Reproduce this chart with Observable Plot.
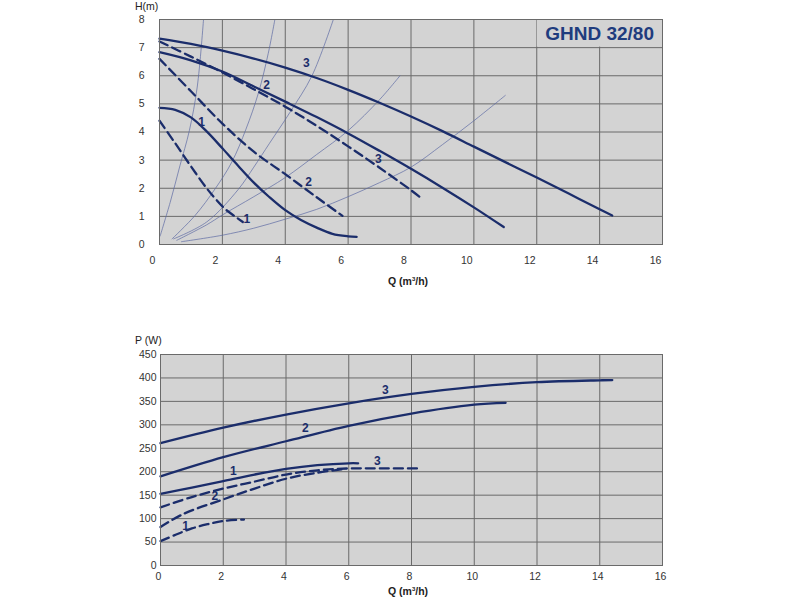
<!DOCTYPE html>
<html><head><meta charset="utf-8">
<script src="https://cdn.jsdelivr.net/npm/d3@7"></script>
<script src="https://cdn.jsdelivr.net/npm/@observablehq/plot@0.6"></script>
<style>
body{margin:0;background:#fff;font-family:"Liberation Sans",Arial,sans-serif;}
#wrap{position:relative;width:800px;height:600px;overflow:hidden;}
#wrap svg{position:absolute;left:0;}
.t{position:absolute;font-size:10.5px;line-height:11px;color:#222;white-space:nowrap;}
.b{font-weight:bold;}
</style></head><body><div id="wrap"></div>
<script>
// ---------- tick labels ----------
const qTicks = [0, 2, 4, 6, 8, 10, 12, 14, 16];
const hTicks = [0, 1, 2, 3, 4, 5, 6, 7, 8];
const pTicks = [0, 50, 100, 150, 200, 250, 300, 350, 400, 450];
const chartTitle = "GHND 32/80";

// ---------- H(Q) curves (top chart) ----------
const h1Q = [0, 0.5, 1.0, 1.5, 2.0, 2.5, 3.0, 3.5, 4.0, 4.5, 5.0, 5.5, 6.0, 6.27];
const h1H = [4.86, 4.79, 4.52, 4.02, 3.42, 2.80, 2.20, 1.68, 1.22, 0.87, 0.60, 0.38, 0.29, 0.27];
const h2Q = [0, 1, 2, 3, 4, 5, 6, 7, 8, 9, 10, 10.95];
const h2H = [6.84, 6.55, 6.15, 5.62, 5.08, 4.53, 3.95, 3.33, 2.69, 2.02, 1.32, 0.62];
const h3Q = [0, 1, 2, 3, 4, 5, 6, 7, 8, 9, 10, 11, 12, 13, 14, 14.4];
const h3H = [7.32, 7.13, 6.89, 6.61, 6.29, 5.92, 5.50, 5.04, 4.55, 4.03, 3.48, 2.93, 2.38, 1.82, 1.25, 1.03];
const h1dQ = [0, 0.5, 1.0, 1.5, 1.8, 2.1, 2.4, 2.65];
const h1dH = [4.40, 3.60, 2.78, 2.00, 1.60, 1.25, 1.00, 0.80];
const h2dQ = [0, 1, 2, 3, 4, 5, 5.82];
const h2dH = [6.60, 5.45, 4.30, 3.30, 2.50, 1.68, 1.02];
const h3dQ = [0, 1, 2, 3, 4, 5, 6, 7, 8, 8.28];
const h3dH = [7.22, 6.68, 6.12, 5.52, 4.90, 4.22, 3.49, 2.73, 1.93, 1.69];

// thin system curves
const sAQ = [0.02, 0.34, 0.65, 0.95, 1.2, 1.4];
const sAH = [0.30, 1.50, 2.80, 4.05, 5.60, 8.00];
const sBQ = [0.4, 1.13, 1.77, 2.3, 2.75, 3.15, 3.46, 3.67];
const sBH = [0.20, 1.03, 1.98, 2.93, 4.10, 5.40, 6.80, 8.00];
const sCQ = [0.45, 1.5, 2.5, 3.0, 3.5, 4.15, 4.85, 5.53];
const sCH = [0.20, 0.80, 1.95, 2.75, 3.60, 4.70, 6.00, 8.00];
const sDQ = [0.55, 1.5, 2, 3, 4, 5, 6, 7, 7.65];
const sDH = [0.15, 0.70, 1.05, 1.70, 2.38, 3.20, 4.05, 5.15, 6.00];
const sEQ = [0.7, 2, 3, 4, 5, 6, 7, 8, 9, 10, 11];
const sEH = [0.10, 0.33, 0.58, 0.90, 1.25, 1.70, 2.20, 2.75, 3.55, 4.40, 5.30];

// curve labels (top)
const hLabText = ["3", "2", "1", "3", "2", "1"];
const hLabQ = [4.67, 3.41, 1.34, 6.96, 4.74, 2.78];
const hLabH = [6.44, 5.66, 4.35, 3.05, 2.22, 0.91];

// ---------- P(Q) curves (bottom chart) ----------
const p1Q = [0, 1, 2, 3, 4, 5, 6, 6.3];
const p1P = [153, 166, 180, 194, 206, 214, 218, 218];
const p2Q = [0, 2, 4, 6, 8, 10, 11];
const p2P = [190, 231, 265, 298, 324, 343, 347];
const p3Q = [0, 2, 4, 6, 8, 10, 12, 14, 14.4];
const p3P = [261, 294, 322, 346, 366, 381, 391, 395, 395.5];
const p1dQ = [0, 0.5, 1, 1.5, 2, 2.66];
const p1dP = [52, 66, 79, 88, 95, 98];
const p2dQ = [0, 0.7, 2, 3, 4, 5, 5.9];
const p2dP = [82, 109, 141, 164, 185, 198, 206];
const p3dQ = [0, 1, 2, 3, 4, 5, 6, 7, 8.3];
const p3dP = [124, 146, 164, 179, 194, 203, 207, 207, 207];

const pLabText = ["3", "2", "1", "3", "2", "1"];
const pLabQ = [7.17, 4.62, 2.32, 6.91, 1.73, 0.80];
const pLabP = [374, 292, 202, 222, 148, 84];

// ---------- helpers ----------
const navy = "#1b2d6b";
const bg = "#d3d3d3";
const grid = "#6a6a6a";
const font = "'Liberation Sans', Arial, sans-serif";
function rows(id, qs, vs) { return qs.map((q, i) => ({id, q, v: vs[i]})); }
function labels(ts, qs, vs) { return ts.map((t, i) => ({t, q: qs[i], v: vs[i]})); }

const hSolid = [...rows("1", h1Q, h1H), ...rows("2", h2Q, h2H), ...rows("3", h3Q, h3H)];
const hDash = [...rows("1", h1dQ, h1dH), ...rows("2", h2dQ, h2dH), ...rows("3", h3dQ, h3dH)];
const hSys = [...rows("A", sAQ, sAH), ...rows("B", sBQ, sBH), ...rows("C", sCQ, sCH), ...rows("D", sDQ, sDH), ...rows("E", sEQ, sEH)];
const pSolid = [...rows("1", p1Q, p1P), ...rows("2", p2Q, p2P), ...rows("3", p3Q, p3P)];
const pDash = [...rows("1", p1dQ, p1dP), ...rows("2", p2dQ, p2dP), ...rows("3", p3dQ, p3dP)];

const titleBox = [{x1: qTicks[qTicks.length - 3], x2: qTicks[qTicks.length - 1], y1: hTicks[hTicks.length - 2], y2: hTicks[hTicks.length - 1]}];

const topChart = Plot.plot({
  width: 800, height: 300,
  marginLeft: 159, marginRight: 138, marginTop: 19, marginBottom: 56,
  x: {domain: [qTicks[0], qTicks[qTicks.length - 1]]},
  y: {domain: [hTicks[0], hTicks[hTicks.length - 1]]},
  style: {fontFamily: font, fontSize: "10.5px", color: "#333", background: "transparent", overflow: "visible"},
  marks: [
    Plot.frame({fill: bg}),
    Plot.gridX(qTicks, {stroke: grid, strokeOpacity: 1}),
    Plot.gridY(hTicks, {stroke: grid, strokeOpacity: 1}),
    Plot.rect(titleBox, {x1: "x1", x2: "x2", y1: "y1", y2: "y2", fill: bg, inset: 0.5}),
    Plot.text(titleBox, {x: d => (d.x1 + d.x2) / 2, y: d => (d.y1 + d.y2) / 2, text: () => chartTitle, fill: "#1f3c7e", fontWeight: "bold", fontSize: 19, fontFamily: font}),
    Plot.line(hSys, {x: "q", y: "v", z: "id", stroke: "#5d6aa3", strokeWidth: 0.7, curve: "catmull-rom"}),
    Plot.line(hSolid, {x: "q", y: "v", z: "id", stroke: navy, strokeWidth: 2.3, curve: "catmull-rom"}),
    Plot.line(hDash, {x: "q", y: "v", z: "id", stroke: navy, strokeWidth: 2.3, strokeDasharray: "9,5", curve: "catmull-rom"}),
    Plot.text(labels(hLabText, hLabQ, hLabH), {x: "q", y: "v", text: "t", fill: navy, fontWeight: "bold", fontSize: 12, fontFamily: font}),
    Plot.axisX({ticks: qTicks, tickSize: 0, tickPadding: 12, dx: -7, label: null, fill: "#333"}),
    Plot.axisY({ticks: hTicks, tickSize: 0, tickPadding: 15, label: null, fill: "#333"}),
    Plot.frame({stroke: grid})
  ]
});

const botChart = Plot.plot({
  width: 800, height: 300,
  marginLeft: 160, marginRight: 138, marginTop: 54, marginBottom: 35,
  x: {domain: [qTicks[0], qTicks[qTicks.length - 1]]},
  y: {domain: [pTicks[0], pTicks[pTicks.length - 1]]},
  style: {fontFamily: font, fontSize: "10.5px", color: "#333", background: "transparent", overflow: "visible"},
  marks: [
    Plot.frame({fill: bg}),
    Plot.gridX(qTicks, {stroke: grid, strokeOpacity: 1}),
    Plot.gridY(pTicks, {stroke: grid, strokeOpacity: 1}),
    Plot.line(pSolid, {x: "q", y: "v", z: "id", stroke: navy, strokeWidth: 2.3, curve: "catmull-rom"}),
    Plot.line(pDash, {x: "q", y: "v", z: "id", stroke: navy, strokeWidth: 2.3, strokeDasharray: "9,5", curve: "catmull-rom"}),
    Plot.text(labels(pLabText, pLabQ, pLabP), {x: "q", y: "v", text: "t", fill: navy, fontWeight: "bold", fontSize: 12, fontFamily: font}),
    Plot.axisX({ticks: qTicks, tickSize: 0, tickPadding: 7, dx: -2, label: null, fill: "#333"}),
    Plot.axisY({ticks: pTicks, tickSize: 0, tickPadding: 4, label: null, fill: "#333"}),
    Plot.frame({stroke: grid})
  ]
});

const wrap = document.getElementById("wrap");
topChart.style.top = "0px";
botChart.style.top = "300px";
wrap.appendChild(topChart);
wrap.appendChild(botChart);

function addText(txt, left, top, cls) {
  const d = document.createElement("div");
  d.className = "t" + (cls ? " " + cls : "");
  d.innerHTML = txt;
  d.style.left = left + "px";
  d.style.top = top + "px";
  wrap.appendChild(d);
}
addText("H(m)", 135, 1);
addText("Q (m<sup style='font-size:6px;line-height:0'>3</sup>/h)", 388, 276, "b");
addText("P (W)", 135, 335);
addText("Q (m<sup style='font-size:6px;line-height:0'>3</sup>/h)", 388, 586, "b");
</script>
</body></html>
